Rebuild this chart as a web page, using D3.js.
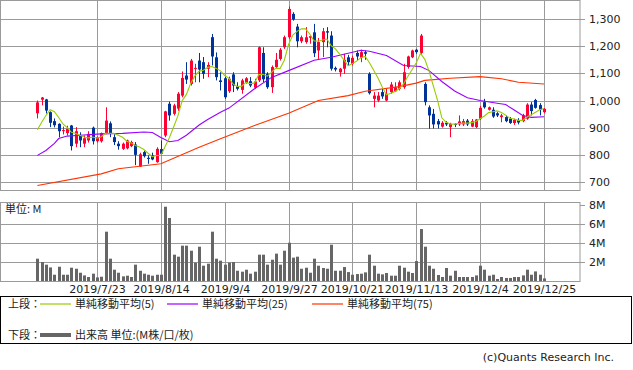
<!DOCTYPE html>
<html>
<head>
<meta charset="utf-8">
<script src="https://cdn.jsdelivr.net/npm/d3@7"></script>
<style>
  body { margin: 0; background: #fff; }
  svg { display: block; }
  text { font-family: "DejaVu Sans", sans-serif; fill: #222; }
  .jp { font-family: "Noto Sans CJK JP", sans-serif; }
</style>
</head>
<body>
<script>
// trading days 2019/7/2 - 2019/12/25
const dates = ("7/2 7/3 7/4 7/5 7/8 7/9 7/10 7/11 7/12 7/16 7/17 7/18 7/19 7/22 7/23 7/24 7/25 7/26 7/29 7/30 7/31 " +
  "8/1 8/2 8/5 8/6 8/7 8/8 8/9 8/13 8/14 8/15 8/16 8/19 8/20 8/21 8/22 8/23 8/26 8/27 8/28 8/29 8/30 " +
  "9/2 9/3 9/4 9/5 9/6 9/9 9/10 9/11 9/12 9/13 9/17 9/18 9/19 9/20 9/24 9/25 9/26 9/27 9/30 " +
  "10/1 10/2 10/3 10/4 10/7 10/8 10/9 10/10 10/11 10/15 10/16 10/17 10/18 10/21 10/23 10/24 10/25 10/28 10/29 10/30 10/31 " +
  "11/1 11/5 11/6 11/7 11/8 11/11 11/12 11/13 11/14 11/15 11/18 11/19 11/20 11/21 11/22 11/25 11/26 11/27 11/28 11/29 " +
  "12/2 12/3 12/4 12/5 12/6 12/9 12/10 12/11 12/12 12/13 12/16 12/17 12/18 12/19 12/20 12/23 12/24 12/25").split(" ");

const opens = [953, 1003, 1004, 957, 924, 914, 888, 880, 908, 841, 872, 841, 853, 900, 850, 850, 880, 916, 865, 841,
  822, 824, 832, 838, 757, 810, 789, 798, 773, 821, 871, 988, 951, 970, 1018, 1092, 1061, 1117, 1147, 1141,
  1117, 1233, 1159, 1074, 1082, 1034, 1096, 1052, 1039, 1065, 1071, 1047, 1074, 1175, 1098, 1049, 1123, 1153, 1196, 1233,
  1319, 1272, 1218, 1215, 1231, 1251, 1184, 1215, 1255, 1239, 1120, 1104, 1117, 1159, 1135, 1175, 1157, 1178, 1098, 1006,
  1000, 1031, 1000, 1031, 1034, 1043, 1049, 1123, 1159, 1187, 1175, 1061, 975, 951, 924, 904, 918, 902, 914, 912,
  912, 926, 904, 902, 933, 994, 966, 966, 953, 939, 939, 933, 917, 928, 924, 933, 985, 1002, 983, 957];
const highs = [1000, 1013, 1006, 960, 934, 916, 904, 907, 910, 902, 883, 871, 887, 904, 868, 882, 975, 923, 876, 850,
  845, 856, 852, 847, 808, 815, 798, 808, 828, 853, 962, 996, 988, 1031, 1107, 1141, 1153, 1135, 1175, 1160,
  1141, 1245, 1177, 1104, 1088, 1088, 1104, 1067, 1080, 1086, 1086, 1080, 1199, 1196, 1104, 1129, 1175, 1193, 1239, 1346,
  1325, 1282, 1239, 1270, 1239, 1282, 1230, 1267, 1270, 1255, 1125, 1120, 1172, 1168, 1165, 1184, 1187, 1184, 1104, 1031,
  1031, 1043, 1043, 1068, 1067, 1074, 1135, 1165, 1187, 1190, 1245, 1067, 982, 969, 932, 924, 924, 918, 916, 945,
  932, 932, 932, 932, 980, 1006, 978, 975, 957, 951, 945, 939, 933, 935, 951, 990, 994, 1006, 990, 972];
const lows = [934, 982, 952, 902, 901, 864, 875, 871, 816, 828, 828, 828, 845, 838, 845, 845, 876, 865, 836, 819,
  818, 820, 828, 762, 755, 790, 767, 780, 771, 798, 865, 926, 945, 962, 1012, 1061, 1055, 1067, 1067, 1080,
  1086, 1129, 1074, 1037, 1006, 1028, 1031, 1037, 1025, 1062, 1049, 1043, 1068, 1067, 1043, 1028, 1117, 1147, 1190, 1227,
  1294, 1196, 1211, 1209, 1209, 1160, 1153, 1160, 1196, 1110, 1107, 1088, 1098, 1129, 1129, 1147, 1141, 1150, 1022, 975,
  994, 1006, 997, 1025, 1031, 1037, 1043, 1117, 1156, 1172, 1168, 982, 896, 897, 897, 900, 906, 865, 902, 906,
  906, 906, 902, 898, 928, 970, 963, 936, 939, 920, 920, 914, 910, 912, 920, 929, 945, 970, 945, 953];
const closes = [993, 1011, 963, 918, 909, 887, 891, 896, 832, 887, 853, 861, 877, 850, 865, 880, 926, 877, 847, 832,
  841, 853, 847, 800, 802, 795, 785, 783, 822, 804, 960, 945, 982, 1025, 1083, 1077, 1147, 1120, 1114, 1098,
  1131, 1162, 1086, 1068, 1012, 1080, 1055, 1043, 1074, 1082, 1055, 1070, 1196, 1078, 1049, 1123, 1150, 1187, 1233, 1337,
  1298, 1218, 1233, 1233, 1237, 1174, 1215, 1255, 1250, 1117, 1114, 1117, 1150, 1141, 1157, 1162, 1178, 1172, 1027, 1018,
  1018, 1015, 1025, 1059, 1049, 1067, 1104, 1162, 1184, 1178, 1239, 994, 945, 912, 912, 918, 912, 914, 910, 923,
  924, 912, 924, 930, 973, 975, 975, 941, 945, 945, 924, 917, 929, 919, 945, 985, 961, 973, 966, 969];

// volume, million shares
const volumes = [2.35, 2.0, 1.72, 1.43, 0.66, 1.5, 0.66, 0.66, 1.4, 1.29, 0.87, 0.59, 0.42, 0.77, 0.38, 0.45, 5.19, 2.35, 1.19, 0.87,
  0.49, 0.56, 0.42, 1.72, 1.08, 0.77, 0.66, 0.56, 0.66, 0.66, 7.82, 6.63, 2.77, 2.56, 3.72, 3.72, 3.19, 1.93, 3.61, 1.61,
  1.82, 5.19, 2.35, 2.14, 1.72, 1.93, 2.0, 1.08, 0.98, 1.19, 0.77, 0.98, 2.77, 2.77, 1.72, 2.24, 2.88, 1.72, 3.19, 4.03,
  2.46, 2.56, 1.29, 1.4, 0.87, 2.35, 1.61, 1.37, 1.29, 3.82, 1.08, 1.08, 1.47, 0.94, 0.66, 0.73, 0.77, 0.91, 2.77, 1.61,
  0.77, 0.7, 0.84, 0.56, 0.56, 1.61, 1.4, 0.98, 0.84, 2.1, 5.47, 3.61, 1.61, 1.29, 0.63, 0.42, 1.37, 0.56, 1.08, 0.42,
  0.42, 0.42, 0.42, 0.59, 1.61, 1.19, 0.56, 0.66, 0.21, 0.42, 0.32, 0.32, 0.42, 0.42, 0.59, 1.19, 0.66, 1.01, 0.66, 0.27];

// moving averages: [day index, value]
const ma5Start = [892, 920, 945, 966];
const ma25 = [[0, 798], [2, 816], [4, 842], [5, 860], [7, 869], [10, 872], [15, 877], [20, 879], [25, 884], [27, 882],
  [29, 864], [31, 848], [33, 853], [35, 872], [38, 910], [40, 930], [43, 957], [45, 972], [51, 1043], [55, 1085],
  [59, 1110], [65, 1148], [69, 1159], [73, 1174], [76, 1185], [78, 1181], [82, 1166], [86, 1129], [90, 1125], [92, 1110],
  [95, 1070], [98, 1035], [101, 1010], [104, 1000], [108, 990], [110, 985], [112, 965], [114, 945], [116, 938], [119, 940]];
const ma75 = [[0, 687], [15, 730], [19, 749], [29, 767], [38, 828], [43, 859], [51, 908], [59, 953], [66, 1000], [73, 1018],
  [77, 1034], [85, 1051], [89, 1064], [91, 1074], [97, 1082], [104, 1088], [109, 1080], [113, 1067], [119, 1061]];

const dateTicks = ["2019/7/23", "2019/8/14", "2019/9/4", "2019/9/27", "2019/10/21", "2019/11/13", "2019/12/4", "2019/12/25"];
const priceTicks = [700, 800, 900, 1000, 1100, 1200, 1300];
const volTicks = [2, 4, 6, 8];

const width = 633, height = 370;
const plotRight = 580;
const gridColor = '#9a9a9a';

const svg = d3.select('body').append('svg')
  .attr('width', width)
  .attr('height', height);

const x = d3.scaleLinear().domain([0, dates.length - 1]).range([37.4, 544]);
const yPrice = d3.scaleLinear().domain([700, 1300]).range([182, 19]);
const yVol = d3.scaleLinear().domain([0, 8]).range([281, 205]);

const crisp = v => Math.round(v) + 0.5;
const tickX = dateTicks.map(t => crisp(x(dates.indexOf(t.slice(5)))));

// panels
function panel(top, bottom, hTicks, yScale) {
  const g = svg.append('g');
  g.selectAll('.hgrid').data(hTicks).enter().append('line')
    .attr('x1', 0).attr('x2', plotRight)
    .attr('y1', d => crisp(yScale(d))).attr('y2', d => crisp(yScale(d)))
    .attr('stroke', gridColor);
  g.selectAll('.vgrid').data(tickX).enter().append('line')
    .attr('x1', d => d).attr('x2', d => d)
    .attr('y1', top).attr('y2', bottom)
    .attr('stroke', gridColor);
  g.append('rect')
    .attr('x', 0.5).attr('y', top + 0.5)
    .attr('width', plotRight - 0.5).attr('height', bottom - top)
    .attr('fill', 'none').attr('stroke', gridColor);
  return g;
}

panel(0, 190, priceTicks, yPrice);
panel(202, 281, volTicks.filter(v => v < 8), yVol);

// right axes
const priceAxis = svg.append('g');
priceAxis.selectAll('line').data(priceTicks).enter().append('line')
  .attr('x1', plotRight).attr('x2', plotRight + 5)
  .attr('y1', d => crisp(yPrice(d))).attr('y2', d => crisp(yPrice(d)))
  .attr('stroke', gridColor);
priceAxis.selectAll('text').data(priceTicks).enter().append('text')
  .attr('x', 589).attr('y', d => yPrice(d) + 4)
  .attr('font-size', 11)
  .text(d => d3.format(',')(d));

const volAxis = svg.append('g');
volAxis.selectAll('line').data(volTicks).enter().append('line')
  .attr('x1', plotRight).attr('x2', plotRight + 5)
  .attr('y1', d => crisp(yVol(d))).attr('y2', d => crisp(yVol(d)))
  .attr('stroke', gridColor);
volAxis.selectAll('text').data(volTicks).enter().append('text')
  .attr('x', 589).attr('y', d => yVol(d) + 4)
  .attr('font-size', 11)
  .text(d => d + 'M');

// date labels
svg.selectAll('.date').data(dateTicks).enter().append('text')
  .attr('x', (d, i) => tickX[i]).attr('y', 293)
  .attr('text-anchor', 'middle')
  .attr('font-size', 11)
  .text(d => d);

// candles
const candles = svg.append('g').selectAll('g').data(dates).enter().append('g');
candles.append('line')
  .attr('x1', (d, i) => crisp(x(i))).attr('x2', (d, i) => crisp(x(i)))
  .attr('y1', (d, i) => yPrice(highs[i])).attr('y2', (d, i) => yPrice(lows[i]))
  .attr('stroke', (d, i) => closes[i] >= opens[i] ? '#ff0033' : '#003399');
candles.append('rect')
  .attr('x', (d, i) => Math.round(x(i)) - 1)
  .attr('width', 3)
  .attr('y', (d, i) => yPrice(Math.max(opens[i], closes[i])))
  .attr('height', (d, i) => Math.max(1, Math.abs(yPrice(opens[i]) - yPrice(closes[i]))))
  .attr('fill', (d, i) => closes[i] >= opens[i] ? '#ff0033' : '#003399');

// moving averages
const ma5 = closes.map((c, i) => [i, i < 4 ? ma5Start[i] : d3.mean(closes.slice(i - 4, i + 1))]);
const line = d3.line().x(d => x(d[0])).y(d => yPrice(d[1]));
[[ma75, '#ff3300'], [ma25, '#9900ff'], [ma5, '#99cc00']].forEach(([data, color]) => {
  svg.append('path')
    .attr('d', line(data))
    .attr('fill', 'none')
    .attr('stroke', color)
    .attr('stroke-width', 1.1);
});

// volume bars
svg.append('g').selectAll('rect').data(volumes).enter().append('rect')
  .attr('x', (d, i) => Math.round(x(i)) - 1)
  .attr('width', 3)
  .attr('y', d => yVol(d))
  .attr('height', d => yVol(0) - yVol(d))
  .attr('fill', '#666');

svg.append('text').attr('class', 'jp')
  .attr('x', 5).attr('y', 213)
  .attr('font-size', 11)
  .text('単位: M');

// legend
const legend = svg.append('g');
legend.append('rect')
  .attr('x', 0.5).attr('y', 296.5)
  .attr('width', 631).attr('height', 47)
  .attr('fill', 'none').attr('stroke', '#000');

const legendRows = [
  { label: '上段：', y: 304, items: [
    { name: '単純移動平均(5)', color: '#99cc00', x: 40 },
    { name: '単純移動平均(25)', color: '#9900ff', x: 167 },
    { name: '単純移動平均(75)', color: '#ff3300', x: 312 }] },
  { label: '下段：', y: 335, items: [
    { name: '出来高 単位:(M株/口/枚)', color: '#666', x: 40, thick: true }] }
];
legendRows.forEach(row => {
  legend.append('text').attr('class', 'jp')
    .attr('x', 8).attr('y', row.y + 4)
    .attr('font-size', 11)
    .text(row.label);
  row.items.forEach(it => {
    legend.append('line')
      .attr('x1', it.x).attr('x2', it.x + 31)
      .attr('y1', row.y).attr('y2', row.y)
      .attr('stroke', it.color)
      .attr('stroke-width', it.thick ? 4 : 1.2);
    legend.append('text').attr('class', 'jp')
      .attr('x', it.x + 35).attr('y', row.y + 4)
      .attr('font-size', 11)
      .text(it.name);
  });
});

svg.append('text')
  .attr('x', 614).attr('y', 361)
  .attr('text-anchor', 'end')
  .attr('font-size', 11)
  .attr('fill', '#555')
  .text('(c)Quants Research Inc.');
</script>
</body>
</html>
